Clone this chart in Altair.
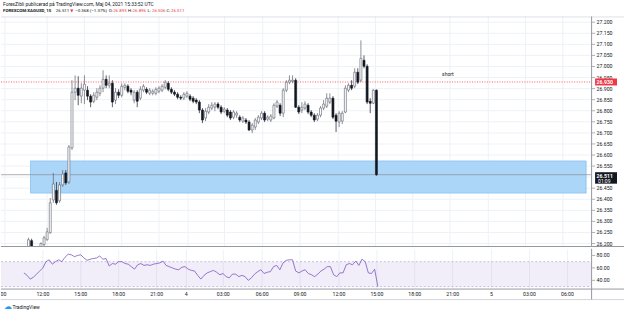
import altair as alt
import pandas as pd

# ---------------- data ----------------
bar_k = list(range(-6, 107))  # 15-minute bars, 0 = May 3 12:00

opens = [26.186, 26.213, 26.175, 26.160, 26.172, 26.195,
         26.217, 26.249, 26.397, 26.440, 26.393, 26.465, 26.519, 26.478, 26.632, 26.884,
         26.902, 26.866, 26.893, 26.893, 26.866, 26.843, 26.861, 26.879, 26.902, 26.942,
         26.915, 26.924, 26.848, 26.884, 26.870, 26.906, 26.911, 26.893, 26.848, 26.884,
         26.857, 26.893, 26.897, 26.879, 26.879, 26.879, 26.888, 26.893, 26.906, 26.924,
         26.897, 26.884, 26.875, 26.861, 26.857, 26.866, 26.866, 26.857, 26.848, 26.839,
         26.803, 26.767, 26.794, 26.812, 26.816, 26.830, 26.816, 26.798, 26.803, 26.794,
         26.771, 26.780, 26.771, 26.753, 26.758, 26.749, 26.713, 26.726, 26.749, 26.767,
         26.789, 26.762, 26.758, 26.767, 26.821, 26.825, 26.789, 26.893, 26.929, 26.933,
         26.938, 26.816, 26.803, 26.812, 26.825, 26.794, 26.780, 26.762, 26.780, 26.812,
         26.821, 26.839, 26.857, 26.780, 26.749, 26.753, 26.794, 26.893, 26.915, 26.911,
         26.974, 26.938, 27.028, 27.001, 26.843, 26.834, 26.893]
highs = [26.226, 26.222, 26.180, 26.175, 26.205, 26.235,
         26.271, 26.406, 26.519, 26.478, 26.478, 26.532, 26.532, 26.645, 26.938, 26.960,
         26.956, 26.924, 26.960, 26.911, 26.875, 26.884, 26.902, 26.915, 26.983, 26.960,
         26.960, 26.938, 26.902, 26.897, 26.924, 26.924, 26.920, 26.902, 26.893, 26.893,
         26.911, 26.920, 26.906, 26.902, 26.897, 26.906, 26.911, 26.920, 26.938, 26.933,
         26.906, 26.893, 26.884, 26.870, 26.884, 26.888, 26.875, 26.866, 26.857, 26.848,
         26.812, 26.812, 26.830, 26.839, 26.839, 26.839, 26.825, 26.816, 26.812, 26.803,
         26.803, 26.798, 26.780, 26.776, 26.767, 26.758, 26.744, 26.767, 26.780, 26.798,
         26.798, 26.780, 26.785, 26.834, 26.848, 26.834, 26.902, 26.938, 26.960, 26.960,
         26.947, 26.825, 26.839, 26.843, 26.834, 26.803, 26.789, 26.789, 26.821, 26.848,
         26.879, 26.879, 26.866, 26.789, 26.798, 26.798, 26.915, 26.924, 26.938, 26.992,
         26.992, 27.118, 27.050, 27.010, 26.857, 26.897, 26.896]
lows = [26.177, 26.163, 26.150, 26.145, 26.163, 26.186,
        26.213, 26.244, 26.384, 26.375, 26.384, 26.456, 26.465, 26.469, 26.623, 26.848,
        26.825, 26.834, 26.830, 26.848, 26.816, 26.834, 26.848, 26.866, 26.884, 26.902,
        26.902, 26.816, 26.830, 26.857, 26.861, 26.893, 26.879, 26.870, 26.834, 26.816,
        26.848, 26.884, 26.875, 26.870, 26.870, 26.870, 26.879, 26.884, 26.897, 26.888,
        26.875, 26.866, 26.852, 26.848, 26.848, 26.857, 26.843, 26.834, 26.830, 26.789,
        26.744, 26.753, 26.785, 26.803, 26.798, 26.807, 26.785, 26.789, 26.771, 26.758,
        26.762, 26.767, 26.749, 26.744, 26.740, 26.708, 26.699, 26.713, 26.740, 26.758,
        26.749, 26.753, 26.749, 26.762, 26.812, 26.776, 26.771, 26.884, 26.920, 26.924,
        26.812, 26.785, 26.789, 26.803, 26.785, 26.771, 26.749, 26.753, 26.771, 26.803,
        26.812, 26.830, 26.762, 26.704, 26.726, 26.740, 26.789, 26.884, 26.893, 26.902,
        26.920, 26.929, 26.992, 26.830, 26.789, 26.830, 26.506]
closes = [26.217, 26.177, 26.160, 26.170, 26.200, 26.226,
          26.253, 26.384, 26.469, 26.384, 26.465, 26.514, 26.474, 26.636, 26.884, 26.902,
          26.870, 26.902, 26.920, 26.866, 26.839, 26.870, 26.884, 26.902, 26.942, 26.915,
          26.924, 26.839, 26.884, 26.870, 26.911, 26.915, 26.888, 26.884, 26.884, 26.843,
          26.897, 26.911, 26.884, 26.893, 26.888, 26.897, 26.902, 26.911, 26.929, 26.897,
          26.884, 26.875, 26.861, 26.857, 26.875, 26.879, 26.852, 26.843, 26.839, 26.803,
          26.758, 26.798, 26.816, 26.825, 26.830, 26.816, 26.794, 26.807, 26.780, 26.767,
          26.794, 26.789, 26.758, 26.767, 26.749, 26.713, 26.735, 26.758, 26.771, 26.789,
          26.758, 26.771, 26.776, 26.825, 26.839, 26.789, 26.893, 26.929, 26.938, 26.938,
          26.816, 26.794, 26.816, 26.830, 26.794, 26.780, 26.758, 26.780, 26.812, 26.830,
          26.857, 26.857, 26.771, 26.753, 26.789, 26.789, 26.902, 26.915, 26.902, 26.974,
          26.929, 27.037, 27.001, 26.839, 26.834, 26.893, 26.511]
osc = [52, 48, 42, 45, 50, 55,
       60, 70, 73, 66, 70, 73, 70, 77, 82, 81,
       78, 80, 81, 76, 72, 74, 75, 76, 79, 74,
       75, 63, 67, 66, 70, 70, 67, 66, 62, 58,
       65, 67, 64, 65, 64, 66, 67, 68, 71, 64,
       62, 60, 58, 57, 61, 62, 58, 56, 55, 48,
       42, 48, 52, 54, 56, 53, 49, 51, 46, 44,
       50, 50, 46, 48, 46, 40, 44, 50, 54, 57,
       51, 53, 54, 62, 64, 57, 68, 72, 73, 73,
       55, 52, 55, 57, 51, 49, 46, 50, 55, 58,
       62, 62, 49, 46, 52, 52, 65, 67, 65, 71,
       64, 74, 70, 52, 51, 58, 30]

time_tick_k = [-13.6, 0, 12, 24, 36, 45.4, 57.1, 69.4, 81.4, 93.7, 105.7, 117.7, 129.7, 142, 154, 166]
time_tick_labels = ["09:00", "12:00", "15:00", "18:00", "21:00", "4", "03:00", "06:00",
                    "09:00", "12:00", "15:00", "18:00", "21:00", "5", "03:00", "06:00"]

price_ticks = [27.20, 27.15, 27.10, 27.05, 27.00, 26.95, 26.90, 26.85, 26.80, 26.75, 26.70,
               26.65, 26.60, 26.55, 26.50, 26.45, 26.40, 26.35, 26.30, 26.25, 26.20]
price_hidden = [26.50]
osc_ticks = [80, 60, 40]
osc_band = [30, 70]

zone_k = [-5.36, 173.5]
zone_price = [26.428, 26.573]
short_price = 26.930
last_price = 26.511
last_countdown = "01:09"
note_k = 129
note_price = 26.965
note_text = "short"

header_line1 = "ForexZibli publicerad på TradingView.com, Maj 04, 2021 15:33:52 UTC"
symbol_text = "FOREXCOM:XAGUSD, 15"
last_text = "26.511"
change_text = "\u22120.368 (\u22121.37%)"
ohlc_names = ["O:", "H:", "L:", "C:"]
ohlc_values = ["26.893", "26.896", "26.506", "26.511"]

# ---------------- styling / scales ----------------
FONT = "Roboto"
TXT = "#131722"
GRID = "#eef1f6"
RED = "#f23645"
X_DOMAIN = [-13.25, 173.5]
P_DOMAIN = [26.1856, 27.2261]
R_DOMAIN = [26.8, 89.2]


def xs():
    return alt.Scale(domain=X_DOMAIN, range=[0, 592], nice=False, zero=False)


def ps():
    return alt.Scale(domain=P_DOMAIN, range=[247, 16], nice=False, zero=False)


def rs():
    return alt.Scale(domain=R_DOMAIN, range=[40, 1], nice=False, zero=False)


one = pd.DataFrame({"d": [0]})


def label(text, x, y, size=5.0, color=TXT, weight="normal", align="left", font=FONT):
    return alt.Chart(pd.DataFrame({"t": [text]})).mark_text(
        align=align, baseline="middle", fontSize=size, font=font, color=color, fontWeight=weight
    ).encode(x=alt.value(x), y=alt.value(y), text="t:N")


def hline(y, x0, x1, color, width=1.0, dash=None):
    kw = dict(color=color, strokeWidth=width)
    if dash:
        kw["strokeDash"] = dash
    return alt.Chart(one).mark_rule(**kw).encode(
        x=alt.value(x0), x2=alt.value(x1), y=alt.value(y))


def vline(x, y0, y1, color, width=1.0):
    return alt.Chart(one).mark_rule(color=color, strokeWidth=width).encode(
        x=alt.value(x), y=alt.value(y0), y2=alt.value(y1))


# ---------------- main pane ----------------
df = pd.DataFrame(dict(k=bar_k, o=opens, h=highs, l=lows, c=closes))
df["dir"] = ["up" if c >= o else "down" for o, c in zip(opens, closes)]

grid_df = pd.DataFrame({"p": price_ticks})
tdf = pd.DataFrame({"k": time_tick_k, "label": time_tick_labels})

hgrid = alt.Chart(grid_df).mark_rule(color=GRID, strokeWidth=1).encode(
    y=alt.Y("p:Q", scale=ps(), axis=None), x=alt.value(0), x2=alt.value(592))
vgrid = alt.Chart(tdf).mark_rule(color=GRID, strokeWidth=1, clip=True).encode(
    x=alt.X("k:Q", scale=xs(), axis=None), y=alt.value(16), y2=alt.value(247))

zdf = pd.DataFrame([{"k0": zone_k[0], "k1": zone_k[1], "p0": zone_price[0], "p1": zone_price[1]}])
zone = alt.Chart(zdf).mark_rect(fill="#acd6f7", stroke="#86c2f2", strokeWidth=0.8).encode(
    x=alt.X("k0:Q", scale=xs(), axis=None), x2="k1:Q",
    y=alt.Y("p0:Q", scale=ps(), axis=None), y2="p1:Q")

lvl = pd.DataFrame({"p": [short_price]})
short_line = alt.Chart(lvl).mark_rule(color=RED, strokeWidth=0.8, strokeDash=[1, 1.5]).encode(
    y=alt.Y("p:Q", scale=ps(), axis=None), x=alt.value(0), x2=alt.value(592))
lastdf = pd.DataFrame({"p": [last_price], "t": [f"{last_price:.3f}"], "cd": [last_countdown]})
last_line = alt.Chart(lastdf).mark_rule(color="#8a8d96", strokeWidth=0.7).encode(
    y=alt.Y("p:Q", scale=ps(), axis=None), x=alt.value(0), x2=alt.value(592))

wicks = alt.Chart(df).mark_rule(clip=True, strokeWidth=0.7).encode(
    x=alt.X("k:Q", scale=xs(), axis=None),
    y=alt.Y("l:Q", scale=ps(), axis=None), y2="h:Q",
    color=alt.Color("dir:N", scale=alt.Scale(domain=["up", "down"], range=["#5d606b", "#131722"]), legend=None))
bodies = alt.Chart(df).mark_bar(clip=True, size=2.0, strokeWidth=0.6).encode(
    x=alt.X("k:Q", scale=xs(), axis=None),
    y=alt.Y("o:Q", scale=ps(), axis=None), y2="c:Q",
    fill=alt.Fill("dir:N", scale=alt.Scale(domain=["up", "down"], range=["#ffffff", "#131722"]), legend=None),
    stroke=alt.Stroke("dir:N", scale=alt.Scale(domain=["up", "down"], range=["#5d606b", "#131722"]), legend=None))

note = alt.Chart(pd.DataFrame({"k": [note_k], "p": [note_price], "t": [note_text]})).mark_text(
    fontSize=5, font=FONT, color=TXT).encode(
    x=alt.X("k:Q", scale=xs(), axis=None), y=alt.Y("p:Q", scale=ps(), axis=None), text="t:N")

# price axis
axis_df = pd.DataFrame({"p": [t for t in price_ticks if t not in price_hidden]})
p_ticks = alt.Chart(axis_df).mark_rule(color="#787b86", strokeWidth=0.6).encode(
    y=alt.Y("p:Q", scale=ps(), axis=None), x=alt.value(593), x2=alt.value(596))
p_labels = alt.Chart(axis_df).mark_text(align="left", baseline="middle", fontSize=5.2,
                                         font=FONT, color=TXT).encode(
    y=alt.Y("p:Q", scale=ps(), axis=None), x=alt.value(597.5),
    text=alt.Text("p:Q", format=".3f"))

red_box = alt.Chart(lvl).mark_rect(color=RED, yOffset=-3.5, y2Offset=3.5).encode(
    y=alt.Y("p:Q", scale=ps(), axis=None), y2="p:Q", x=alt.value(596), x2=alt.value(618))
red_txt = alt.Chart(lvl).mark_text(align="left", baseline="middle", fontSize=5.2, font=FONT,
                                   color="white", fontWeight="bold").encode(
    y=alt.Y("p:Q", scale=ps(), axis=None), x=alt.value(597.5), text=alt.Text("p:Q", format=".3f"))

blk_box = alt.Chart(lastdf).mark_rect(color=TXT, yOffset=-2.5, y2Offset=9).encode(
    y=alt.Y("p:Q", scale=ps(), axis=None), y2="p:Q", x=alt.value(596), x2=alt.value(618))
blk_txt = alt.Chart(lastdf).mark_text(align="left", baseline="middle", fontSize=5.2, font=FONT,
                                      color="white", fontWeight="bold", dy=1).encode(
    y=alt.Y("p:Q", scale=ps(), axis=None), x=alt.value(597.5), text="t:N")
blk_cd = alt.Chart(lastdf).mark_text(align="left", baseline="middle", fontSize=5.0, font=FONT,
                                     color="white", dy=6.2).encode(
    y=alt.Y("p:Q", scale=ps(), axis=None), x=alt.value(599), text="cd:N")

# header
HS = 4.4
ohlc_x = [108, 127.5, 147, 166]
header = [label(header_line1, 2, 4.2, size=4.9),
          label(symbol_text, 2, 10.8, size=HS, weight="bold"),
          label(last_text, 55, 10.8, size=HS),
          label("\u25bc", 69.5, 10.8, size=4.0, color=RED, font="DejaVu Sans"),
          label(change_text, 74.5, 10.8, size=HS)]
for nm, val, xx in zip(ohlc_names, ohlc_values, ohlc_x):
    header.append(label(nm, xx, 10.8, size=HS))
    header.append(label(val, xx + 4.5, 10.8, size=HS, color=RED))

main = alt.layer(
    hgrid, vgrid, zone, short_line, last_line, wicks, bodies, note,
    hline(16.5, 0, 625, "#d6d9e0", 0.8),
    hline(246.8, 0, 625, "#9598a1", 1.0),
    vline(592.5, 16, 247, "#9598a1", 1.0),
    p_ticks, p_labels, red_box, red_txt, blk_box, blk_txt, blk_cd,
    *header,
).properties(width=625, height=247)

# ---------------- oscillator pane + time axis ----------------
odf = pd.DataFrame({"k": bar_k, "v": osc})
band = alt.Chart(pd.DataFrame({"lo": [osc_band[0]], "hi": [osc_band[1]]})).mark_rect(
    color="#7e57c2", opacity=0.1).encode(
    y=alt.Y("lo:Q", scale=rs(), axis=None), y2="hi:Q", x=alt.value(0), x2=alt.value(592))
band_lines = alt.Chart(pd.DataFrame({"v": osc_band})).mark_rule(
    color="#a69bc9", strokeWidth=0.6, strokeDash=[2, 2]).encode(
    y=alt.Y("v:Q", scale=rs(), axis=None), x=alt.value(0), x2=alt.value(592))
vgrid2 = alt.Chart(tdf).mark_rule(color=GRID, strokeWidth=1, clip=True).encode(
    x=alt.X("k:Q", scale=xs(), axis=None), y=alt.value(1), y2=alt.value(40))
osc_line = alt.Chart(odf).mark_line(color="#7e57c2", strokeWidth=0.8, clip=True).encode(
    x=alt.X("k:Q", scale=xs(), axis=None), y=alt.Y("v:Q", scale=rs(), axis=None))
o_axis_df = pd.DataFrame({"v": osc_ticks})
o_ticks = alt.Chart(o_axis_df).mark_rule(color="#787b86", strokeWidth=0.6).encode(
    y=alt.Y("v:Q", scale=rs(), axis=None), x=alt.value(593), x2=alt.value(596))
o_labels = alt.Chart(o_axis_df).mark_text(align="left", baseline="middle", fontSize=5.2,
                                          font=FONT, color=TXT).encode(
    y=alt.Y("v:Q", scale=rs(), axis=None), x=alt.value(597.5),
    text=alt.Text("v:Q", format=".2f"))
t_labels = alt.Chart(tdf).mark_text(baseline="middle", fontSize=5.2, font=FONT, color=TXT,
                                    clip=True).encode(
    x=alt.X("k:Q", scale=xs(), axis=None), y=alt.value(45.3), text="label:N")

lower = alt.layer(
    vgrid2, band, band_lines, osc_line,
    hline(40.5, 0, 625, "#9598a1", 1.0),
    hline(51, 0, 625, "#c8cbd3", 0.8),
    vline(592.5, 0, 51, "#9598a1", 1.0),
    o_ticks, o_labels, t_labels,
    label("\u2601", 3, 58.5, size=8, color="#2196f3", font="DejaVu Sans"),
    label("TradingView", 11.5, 58.5, size=5.0),
).properties(width=625, height=65)

chart = alt.vconcat(main, lower, spacing=0).resolve_scale(
    x="independent", y="independent"
).properties(
    padding=0, background="white"
).configure_view(stroke=None)

chart.save("out.html", embed_options={"renderer": "svg", "actions": False})
